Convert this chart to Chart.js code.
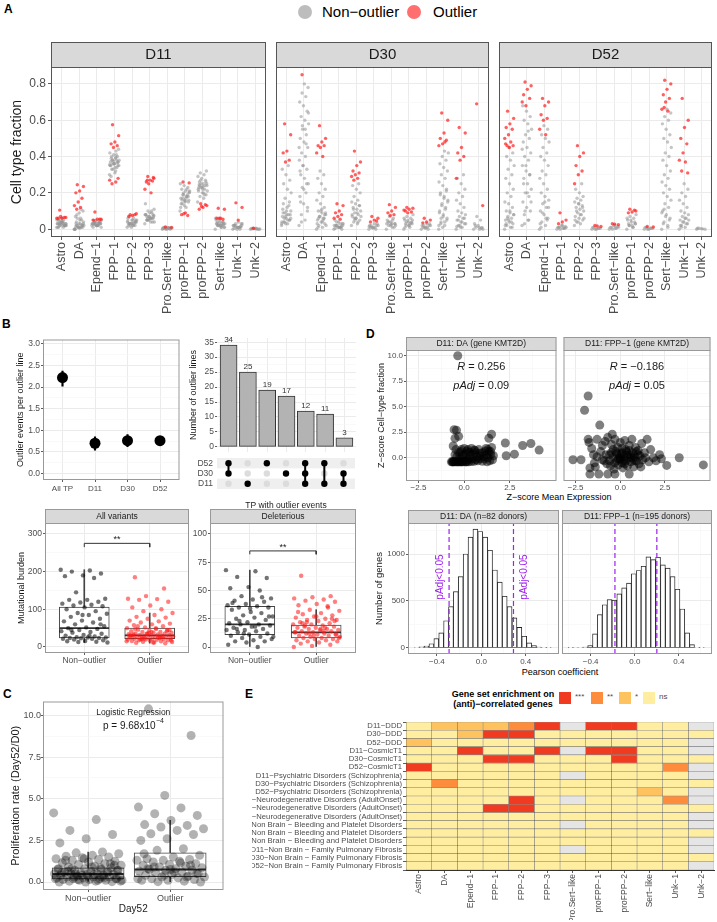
<!DOCTYPE html>
<html>
<head>
<meta charset="utf-8">
<script src="https://cdn.jsdelivr.net/npm/chart.js@4.4.1/dist/chart.umd.min.js"></script>
<style>
body { margin: 0; background: #fff; }
#fig { position: relative; width: 717px; height: 922px; overflow: hidden; font-family: "Liberation Sans", Arial, sans-serif; color: #000; }
#fig canvas { position: absolute; }
.tag { position: absolute; font-weight: bold; font-size: 12px; line-height: 12px; }
.t { position: absolute; white-space: nowrap; }
.sw { position: absolute; width: 12px; height: 12px; }
</style>
</head>
<body>
<div id="fig">
  <div class="tag" style="left:4px;top:3px">A</div>
  <div class="tag" style="left:2px;top:318px">B</div>
  <div class="tag" style="left:3px;top:688px">C</div>
  <div class="tag" style="left:366px;top:328px">D</div>
  <div class="tag" style="left:245px;top:688px">E</div>

  <div class="t" style="left:298px;top:5px;width:14px;height:14px;border-radius:50%;background:#bdbdbd"></div>
  <div class="t" style="left:322px;top:2px;font-size:15px;line-height:20px">Non−outlier</div>
  <div class="t" style="left:407px;top:5px;width:14px;height:14px;border-radius:50%;background:#ff6f6f"></div>
  <div class="t" style="left:433px;top:2px;font-size:15px;line-height:20px">Outlier</div>

  <div class="t" style="left:459px;top:491px;width:200px;text-align:center;font-size:9px;line-height:12px">Z−score Mean Expression</div>
  <div class="t" style="left:460px;top:666px;width:200px;text-align:center;font-size:9px;line-height:12px">Pearson coefficient</div>

  <div class="t" style="left:443px;top:689px;width:120px;text-align:center;font-size:9px;line-height:10px;font-weight:bold">Gene set enrichment on<br>(anti)−correlated genes</div>
  <div class="sw" style="left:559px;top:692px;background:#f03b20"></div>
  <div class="t" style="left:575px;top:692px;font-size:8px;color:#4d4d4d">***</div>
  <div class="sw" style="left:591px;top:692px;background:#fd8d3c"></div>
  <div class="t" style="left:607px;top:692px;font-size:8px;color:#4d4d4d">**</div>
  <div class="sw" style="left:619px;top:692px;background:#fec25e"></div>
  <div class="t" style="left:635px;top:692px;font-size:8px;color:#4d4d4d">*</div>
  <div class="sw" style="left:643px;top:692px;background:#ffeda0"></div>
  <div class="t" style="left:659px;top:692px;font-size:8px;color:#4d4d4d">ns</div>
</div>
<script>
const FONT = '"Liberation Sans", Arial, sans-serif';
Chart.defaults.font.family = FONT;
Chart.defaults.color = '#4d4d4d';

// ---------------- data ----------------
const cellTypes = ['Astro', 'DA', 'Epend−1', 'FPP−1', 'FPP−2', 'FPP−3', 'Pro.Sert−like', 'proFPP−1', 'proFPP−2', 'Sert−like', 'Unk−1', 'Unk−2'];
const days = ['D11', 'D30', 'D52'];
const fracTicks = [0, 0.2, 0.4, 0.6, 0.8];
const fracMinor = [0.1, 0.3, 0.5, 0.7];

// cell type fractions, in hundredths, one string per cell type
const greyD11 = [
  '1 2 3 2 4 3 5 2 3 4 1 2 3 5 4 3 2 6 1 3 4 2 3 5 2 4 3 1 2 3 4 5',
  '0 1 2 1 3 0 1 2 4 5 3 2 1 0 6 8 10 9 7 5 1 2 3 4 2 1 0 11 6 3 0.5 1.5 2.5',
  '2 3 4 3 2 5 4 3 1 2 3 4 5 3 2 4 3 2 1 3 4 5 2 3 4 2 3 3.5 2.5',
  '30 32 33 35 36 37 38 36 35 34 39 40 41 42 43 38 37 36 35 34 33 38 39 40 37 36 35 41 38 44 31 29 36.5 37.5 35.5 39.5',
  '1 2 3 4 5 6 3 2 4 5 3 2 1 4 6 7 5 3 2 4 3 5 2 3 4 3.5 4.5',
  '3 4 5 6 7 8 9 10 11 6 5 4 7 8 6 5 7 9 8 6 5 4 6 7 8 5 14 10 6 7.5',
  '0 0.5 1 0.5 0 1 0.5 0 0.5 1 0.5 0 0.5 0.3 0.8',
  '10 12 14 15 16 17 18 19 20 21 22 23 24 25 18 17 16 15 14 19 20 21 17 16 18 13 12 22 19 20.5 15.5',
  '15 17 18 19 20 21 22 23 24 25 26 27 28 29 30 31 32 22 23 24 25 21 20 24 26 23 22 19 27 25 23.5 24.5',
  '0 1 2 3 4 5 2 3 1 2 3 4 5 6 3 2 1 2 3 4 2 3 1 4 2.5',
  '0 1 2 3 1 2 0 1 3 4 2 1 0 2 1 3 2 1 0.5 1.5',
  '0 0.3 0.5 0 0.2 0.4 0 0.3 0.1 0.5 0.2'
];
const redD11 = [
  '10.5 6.5 6 6 6.5 7 6', '24.5 23.5 21 20 17 15 13 12 11', '9.5 5.5 5.5 5 5.5',
  '57.5 51.5 48 47 46 45 27 26 25 28', '8 8.5 7.5 7 8', '29 28 27 26 26.5 25 22 20 27 28.5',
  '1.2 1', '26 25.5 9 8 7.5 8.5', '14 13 12 11 13.5 12.5', '11.5 11 6 6 5.5 6', '14.5 12 5', '0.5'
];
const greyD30 = [
  '2 3 4 5 6 7 8 9 10 12 14 15 3 4 5 6 8 10 11 13 17 20 22 25 27 30 33 35 4 6 8 9 5 7 3',
  '2 5 8 10 14 18 20 23 25 28 30 33 35 38 40 42 45 48 50 52 55 58 60 62 65 68 70 73 75 78 80 15 25 35 45 55 4 12 22 32 47 57 64',
  '0 1 2 3 4 5 6 7 8 9 10 12 14 16 18 20 22 25 28 30 32 2 4 6 8 10 3 5 7 9 11 1 6',
  '0 1 2 3 4 5 1 2 3 1 2 0 1 2 3 4 2 1 0.5 1.5',
  '2 3 4 5 6 7 8 9 10 11 12 13 14 15 16 18 20 22 24 25 5 7 9 11 13 6 8 4 6',
  '0 1 2 3 1 2 0 1 2 3 1 2 0.5 1.5',
  '0 1 2 3 4 5 6 7 2 3 4 1 2 3 5 4 3 2.5',
  '0 1 2 3 4 5 6 7 8 2 3 4 5 6 3 4 5 2 1 3.5',
  '0 1 2 3 1 2 0 1 2 3 1 2 0.5',
  '0 2 4 6 8 10 12 14 16 18 20 22 24 26 28 30 32 34 36 38 40 42 43 3 5 7 9 11 13 15 17 19 21 1 2 4 6',
  '0 1 2 3 4 5 6 7 8 9 10 12 14 16 18 20 22 25 28 30 2 3 4 5 6 1 1.5',
  '0 0 1 1 2 3 5 7 0 1 2 0.5'
];
const redD30 = [
  '58 52 43 42 38 37', '85', '57 50 48 46 46 45 42 40', '14 13 10 9 8 7 6 5.5',
  '43 37 35 32 31 30 29 28 27', '7 6 5 4 4.5', '13.5 12 10 9 8 7.5', '12 11.5 11 10 9.5 9 10.5',
  '6 5 4 3.5', '64 60 53 50 49 47 46 48', '56 53 45 42 40 38 28', '69 13'
];
const greyD52 = [
  '0 1 2 3 4 5 6 7 8 9 10 12 14 15 18 20 22 25 28 30 33 35 38 40 42 45 2 4 6 8 10 3 1 5',
  '2 5 8 10 12 15 18 20 22 25 28 30 32 35 38 40 42 45 48 50 52 55 58 60 62 65 68 5 10 15 20 25 30 35 44 54 3',
  '0 2 4 6 8 10 12 14 16 18 20 22 25 28 30 32 35 38 40 42 45 48 50 52 55 57 3 6 9 12 15 1 5',
  '0 0.5 1 1.5 2 1 0.5 0 1 2 1 0.5',
  '2 3 4 5 6 7 8 9 10 11 12 13 14 15 16 17 18 20 22 25 4 6 8 10 12 14 5',
  '0 0.5 1 0.5 0 1 0.5 0',
  '0 0.5 1 1.5 2 1 0.5 0 1 2',
  '0 1 2 3 4 5 6 7 8 2 3 4 5 6 1 2 3',
  '0 0.5 1 0.5 0 1 0.5 0',
  '0 2 4 6 8 10 12 14 16 18 20 22 24 26 28 30 32 35 38 40 42 45 48 50 52 55 58 60 62 64 66 3 5 7 9 1 11',
  '0 1 2 3 4 5 6 7 8 9 10 12 14 16 18 20 22 25 2 3 4 5 6 1',
  '0 0.2 0.5 0 0.3 0.5'
];
const redD52 = [
  '65 61 58 56 55 52 50 48 46 46 45 47', '81 79 77 74 72 68 70', '72 70 68 63 61 60 55 52', '9 5 4 3',
  '46 42 40 35 32 30 25', '2 1.5 1.8', '3 2.5 2.8', '11 10 9.5 9 10.5', '1.5 1.2',
  '82 80 77 74 72 70 66 65 67', '72 60 56 50 47 42 38 37 32 31', ''
];

// B: outlier events per line
const tpCats = ['All TP', 'D11', 'D30', 'D52'];
const tpMean = [2.22, 0.70, 0.76, 0.76];
const tpLo = [2.02, 0.54, 0.62, 0.68];
const tpHi = [2.37, 0.85, 0.90, 0.83];
const evTicks = [0, 0.5, 1, 1.5, 2, 2.5, 3];
const evMinor = [0.25, 0.75, 1.25, 1.75, 2.25, 2.75];

// B: upset
const upsetSets = ['D11', 'D30', 'D52'];
const upsetCombos = [['D30', 'D52'], ['D11'], ['D52'], ['D30'], ['D11', 'D30', 'D52'], ['D11', 'D52'], ['D11', 'D30']];
const upsetCounts = [34, 25, 19, 17, 12, 11, 3];
const upsetTicks = [0, 5, 10, 15, 20, 25, 30, 35];
const upsetMinor = [2.5, 7.5, 12.5, 17.5, 22.5, 27.5, 32.5];

// B: mutational burden
const groups = ['Non−outlier', 'Outlier'];
const allNon = [205, 203, 200, 195, 190, 188, 183, 145, 128, 125, 125, 120, 118, 115, 112, 110, 108, 105, 100, 95, 90, 88, 85, 80, 75, 70, 68, 65, 60, 55, 52, 50, 48, 45, 42, 40, 38, 35, 32, 30, 28, 26, 25, 25, 24, 24, 23, 22, 22, 20, 18, 16, 15, 14, 13, 12, 30, 45, 60, 85];
const allOut = [185, 155, 135, 128, 127, 125, 120, 110, 105, 100, 95, 90, 85, 80, 78, 75, 70, 68, 65, 62, 60, 58, 55, 52, 50, 48, 46, 45, 44, 42, 40, 40, 38, 38, 36, 35, 35, 34, 33, 32, 32, 31, 30, 30, 29, 28, 28, 27, 26, 25, 25, 24, 24, 23, 22, 22, 21, 20, 20, 19, 18, 18, 17, 16, 15, 14, 13, 12, 11, 10, 35, 30, 25, 20, 45, 40, 33, 27, 23, 15, 50, 55, 42, 37, 31, 26, 21, 17, 12, 48];
const delNon = [68, 67, 62, 61, 53, 52, 50, 45, 43, 42, 41, 40, 38, 37, 36, 35, 35, 34, 33, 30, 28, 27, 26, 25, 24, 22, 21, 20, 20, 19, 18, 17, 16, 15, 15, 14, 13, 12, 11, 10, 9, 8, 7, 6, 5, 5, 4, 2, 0, 23, 27, 31, 39, 44, 12, 9, 18, 16];
const delOut = [63, 45, 44, 43, 42, 41, 40, 38, 37, 35, 33, 32, 30, 29, 28, 27, 26, 25, 24, 24, 23, 22, 21, 20, 20, 19, 18, 18, 17, 17, 16, 16, 15, 15, 14, 14, 13, 13, 12, 12, 11, 11, 10, 10, 9, 9, 8, 8, 7, 7, 6, 6, 5, 5, 4, 3, 2, 1, 0, 14, 19, 23, 27, 31, 36, 12, 8, 16, 21, 25, 10, 13, 17, 22, 11];
const allBox = [[12, 24, 50, 106, 205], [10, 22, 31, 50, 90]];   // low, q1, median, q3, high
const delBox = [[0, 11, 20, 36, 68], [0, 8, 13, 19.5, 33]];
const allSig = 275, delSig = 85;

// C: proliferation
const proNon = [4.15, 3.75, 3.1, 2.85, 2.6, 2.35, 1.8, 1.75, 1.7, 1.6, 1.55, 1.5, 1.45, 1.4, 1.35, 1.3, 1.25, 1.2, 1.15, 1.1, 1.05, 1.0, 0.95, 0.9, 0.85, 0.8, 0.8, 0.75, 0.7, 0.7, 0.65, 0.6, 0.6, 0.55, 0.5, 0.5, 0.5, 0.45, 0.45, 0.4, 0.4, 0.35, 0.35, 0.3, 0.3, 0.3, 0.25, 0.25, 0.2, 0.2, 0.2, 0.15, 0.15, 0.1, 0.1, 0.1, 0.05, 0.05, 0.02, 0.0, 0.0, 0.3, 0.5, 0.7, 0.9, 1.3, 0.6, 0.4, 0.2, 0.1, 0.8, 1.0, 0.35, 0.55, 0.25, 0.15, 0.05, 0.45, 0.65, 1.1, 1.4, 0.75, 0.85, 0.3, 0.2];
const proOut = [10.4, 8.8, 5.2, 4.5, 4.45, 4.1, 4.0, 3.7, 3.45, 3.4, 3.3, 3.2, 3.1, 2.9, 2.85, 2.6, 2.5, 2.0, 1.9, 1.6, 1.5, 1.4, 1.35, 1.3, 1.3, 1.25, 1.2, 1.1, 1.05, 1.0, 0.95, 0.9, 0.85, 0.8, 0.75, 0.7, 0.7, 0.65, 0.6, 0.55, 0.5, 0.45, 0.4, 0.35, 0.3, 0.3, 0.25, 0.2, 0.15, 0.1, 0.1, 0.05, 0.02, 0.0, 0.6, 0.8, 1.0, 0.4, 0.2, 1.15, 0.9, 0.5, 0.75, 1.7, 0.3];
const proBox = [[0, 0.18, 0.48, 0.85, 1.8], [0.02, 0.32, 0.75, 1.75, 3.7]];
const proTicks = [0, 2.5, 5, 7.5, 10];
const proMinor = [1.25, 3.75, 6.25, 8.75];

// D: z-score scatter
const dStrips = ['D11: DA (gene KMT2D)', 'D11: FPP−1 (gene KMT2D)'];
const dR = ['0.256', '−0.186'];
const dP = ['0.09', '0.05'];
const daPts = [[-0.35, 10.0], [-0.55, 2.75], [-0.42, 2.7], [-0.3, 2.1], [-0.5, 1.9], [-0.6, 1.15], [-0.45, 0.8], [-0.2, 0.6], [0.0, 0.9], [0.2, 0.8], [0.4, 0.9], [0.6, 0.7], [0.8, 0.8], [1.0, 0.5], [1.2, 0.9], [1.35, 1.9], [1.5, 2.3], [1.45, 0.6], [1.6, 0.2], [1.3, 0.0], [1.1, -0.1], [0.9, 0.2], [0.7, 0.1], [0.5, 0.3], [0.3, 0.0], [0.1, 0.4], [-0.1, 0.2], [-0.3, 0.5], [-0.5, 0.3], [2.25, 1.45], [2.3, 0.2], [2.75, 0.35], [3.2, 1.2], [3.65, 1.4], [4.1, 0.75], [-0.7, -0.4], [-0.62, -0.4], [-0.55, -0.4], [-0.48, -0.4], [-0.4, -0.4], [-0.33, -0.4], [-0.26, -0.4], [-0.2, -0.4], [-0.12, -0.4], [-0.05, -0.4], [0.05, -0.4], [0.15, -0.4], [0.25, -0.4], [0.4, -0.38], [0.55, -0.35], [0.75, -0.3], [1.0, -0.35], [1.25, -0.4], [1.4, -0.3], [0.2, -0.2], [0.45, -0.1], [0.65, -0.2], [0.85, -0.1], [1.05, 0.1], [-0.25, 0.0], [0.0, -0.1], [0.35, 0.35], [0.6, 0.5], [1.2, 0.3], [1.35, 0.6], [0.15, 0.65], [-0.05, 0.3], [1.55, -0.2], [-0.65, -0.4], [-0.58, -0.4], [-0.36, -0.4], [-0.16, -0.4], [0.1, -0.4], [1.3, 0.8], [1.45, 0.3], [0.55, 0.75], [-0.4, 0.1], [0.85, 0.45], [1.15, 0.65], [1.5, 1.0], [0.3, 0.55], [-0.15, 0.8]];
const fppPts = [[-1.8, 6.05], [-2.0, 4.65], [-1.15, 3.2], [-2.65, -0.2], [-2.2, -0.2], [-1.8, 1.8], [-1.75, 1.5], [-1.6, 0.9], [-1.5, 0.3], [-1.45, -0.5], [-1.7, -1.0], [-1.7, -1.6], [-1.3, 1.8], [-1.2, -1.6], [-1.1, 0.6], [-1.0, 1.2], [-0.9, -0.3], [-0.85, 1.6], [-0.7, 2.0], [-0.7, -1.6], [-0.6, 0.3], [-0.55, -0.8], [-0.5, 1.3], [-0.45, 2.3], [-0.4, 0.0], [-0.35, -1.1], [-0.3, 1.8], [-0.3, -1.6], [-0.25, 0.6], [-0.2, -0.3], [-0.15, 1.0], [-0.1, -0.7], [-0.05, 0.2], [0.0, 1.5], [0.0, -0.2], [0.05, 0.4], [0.1, -0.5], [0.1, 0.9], [0.15, -1.0], [0.2, 0.1], [0.25, 1.7], [0.3, -0.3], [0.35, 0.6], [0.4, -0.8], [0.45, 0.0], [0.5, -1.6], [0.5, 1.2], [0.55, 0.3], [0.6, -0.4], [0.65, 1.8], [0.7, 0.5], [0.75, -0.9], [0.8, 0.1], [0.85, 1.0], [0.9, -0.3], [1.0, 0.7], [1.05, -0.6], [1.1, 0.2], [1.2, 1.4], [1.25, -0.2], [1.35, 0.5], [1.5, 1.8], [1.6, -0.4], [1.7, 0.8], [1.85, 0.0], [2.0, -0.3], [2.2, 0.3], [2.3, -0.1], [2.6, -0.75], [3.3, 0.0], [4.65, -0.7], [-0.8, 0.3], [-0.6, -0.3], [-0.4, 0.8], [-0.2, 0.4], [0.0, 0.0], [0.2, -0.2], [0.4, 0.3], [0.6, 0.0], [0.8, -0.3], [1.0, 0.3], [-1.0, -0.2], [-0.3, -0.5], [0.3, 0.8], [0.7, -0.1], [1.4, 0.0], [-1.3, 0.1], [0.1, 0.5], [-0.5, 0.5], [0.5, 0.7], [-0.1, -0.1], [0.25, -0.6], [-0.75, -0.6], [0.9, 0.6], [1.15, -0.9], [-1.4, -0.9]];
const zTicks = [-2.5, 0, 2.5];
const zMinor = [-1.25, 1.25, 3.75];
const zyTicks = [0, 2.5, 5, 7.5, 10];
const zyMinor = [-1.25, 1.25, 3.75, 6.25, 8.75];

// D: histograms of Pearson coefficients (bins of 0.044 starting at -0.603)
const hStrips = ['D11: DA (n=82 donors)', 'D11: FPP−1 (n=195 donors)'];
const histStart = -0.603, binW = 0.044;
const daHist = [5, 12, 20, 45, 100, 160, 290, 440, 600, 760, 1000, 1180, 1265, 1240, 1180, 1040, 830, 700, 550, 440, 320, 220, 125, 55, 25, 10, 5, 3];
const fppHist = [3, 5, 5, 10, 25, 150, 355, 460, 515, 510, 575, 640, 690, 790, 825, 870, 970, 940, 965, 885, 850, 760, 625, 415, 160, 35, 5, 3];
const daCut = [-0.29, 0.29];
const fppCut = [-0.18, 0.2];
const hyTicks = [0, 500, 1000];
const hyMinor = [250, 750, 1250];
const hxTicks = [-0.4, 0, 0.4];
const hxMinor = [-0.6, -0.2, 0.2, 0.6];

// E: enrichment heatmap ('3' ***, '2' **, '1' *, '0' ns, '.' missing)
const heatRows = ['D11−DDD', 'D30−DDD', 'D52−DDD', 'D11−CosmicT1', 'D30−CosmicT1', 'D52−CosmicT1',
  'D11−Psychiatric Disorders (Schizophrenia)', 'D30−Psychiatric Disorders (Schizophrenia)', 'D52−Psychiatric Disorders (Schizophrenia)',
  'D11−Neurodegenerative Disorders (AdultOnset)', 'D30−Neurodegenerative Disorders (AdultOnset)', 'D52−Neurodegenerative Disorders (AdultOnset)',
  'D11−Non Brain − Bleeding and Platelet Disorders', 'D30−Non Brain − Bleeding and Platelet Disorders', 'D52−Non Brain − Bleeding and Platelet Disorders',
  'D11−Non Brain − Family Pulmonary Fibrosis', 'D30−Non Brain − Family Pulmonary Fibrosis', 'D52−Non Brain − Family Pulmonary Fibrosis'];
const heatCodes = ['011123.3300.', '001330000000', '10000000000.', '003003.3300.', '000330003000', '30000000002.',
  '000000.0000.', '020000000000', '00000000010.', '000030.0002.', '000330000000', '00000000000.',
  '000000.0000.', '000000000000', '00000000000.', '000000.0000.', '000000000000', '00000000000.'];
const heatFill = { '3': '#f03b20', '2': '#fd8d3c', '1': '#fec25e', '0': '#ffeda0', '.': '#e5e5e5' };

// ---------------- helpers ----------------
const fig = document.getElementById('fig');

function mk(area, yW, xH, padT, padR) {
  padR = padR === undefined ? 3 : padR;
  const c = document.createElement('canvas');
  const w = 2 + yW + area.w + padR, h = padT + area.h + xH;
  c.width = w; c.height = h;
  c.style.left = (area.l - yW - 2) + 'px';
  c.style.top = (area.t - padT) + 'px';
  c.style.width = w + 'px';
  c.style.height = h + 'px';
  fig.appendChild(c);
  return { el: c, layout: { padding: { left: 2, right: padR, top: padT, bottom: 0 } } };
}

function opts(m, scales) {
  return {
    responsive: false, animation: false, events: [], layout: m.layout,
    plugins: { legend: { display: false }, tooltip: { enabled: false } },
    scales: scales
  };
}

function axis(o) {
  const list = o.major.map((v, i) => ({ value: v, mj: 1, lab: o.labels ? o.labels[i] : '' }))
    .concat((o.minor || []).map(v => ({ value: v, mj: 0, lab: '' })))
    .sort((p, q) => p.value - q.value);
  const tl = o.tickLen === undefined ? 3 : o.tickLen;
  const showGrid = o.grid !== false;
  return {
    type: 'linear', min: o.min, max: o.max, offset: false,
    afterBuildTicks: ax => { ax.ticks = list.map(t => ({ value: t.value, mj: t.mj, lab: t.lab })); },
    afterFit: ax => {
      if (o.horiz) { ax.height = o.size; ax.paddingLeft = 0; ax.paddingRight = 0; }
      else { ax.width = o.size; ax.paddingTop = 0; ax.paddingBottom = 0; }
    },
    border: { display: !!o.axisLine, color: '#333', width: 1 },
    grid: {
      offset: false,
      display: showGrid || tl > 0, drawOnChartArea: showGrid, drawTicks: tl > 0, tickLength: tl,
      color: c => (c.tick && c.tick.mj) ? '#ebebeb' : '#f5f5f5',
      lineWidth: c => (c.tick && c.tick.mj) ? 1 : 0.6,
      tickColor: c => (c.tick && c.tick.mj) ? '#333' : 'rgba(0,0,0,0)',
      tickWidth: 0.8
    },
    ticks: {
      display: !o.hideLabels, autoSkip: false, padding: o.pad === undefined ? 2 : o.pad,
      minRotation: o.rot || 0, maxRotation: o.rot || 0, color: '#4d4d4d',
      font: { size: o.font || 9 },
      callback: (v, i, t) => t[i].lab
    },
    title: o.title ? {
      display: true, text: o.title, color: '#1a1a1a', font: { size: o.titleFont },
      padding: o.horiz ? { top: 0, bottom: o.titlePad || 0 } : { top: o.titlePad || 0, bottom: 0 }
    } : { display: false }
  };
}

function num(v, d) { return (v < 0 ? '\u2212' : '') + Math.abs(v).toFixed(d); }
function vals(s) { return s.trim() ? s.trim().split(/\s+/).map(Number) : []; }
// horizontal spread of jittered points inside a category
function jit(i, w) { return (((i * 0.6180339887) % 1) - 0.5) * 2 * w; }

function frame(o) {
  return {
    id: 'frame',
    afterDatasetsDraw(chart) {
      const c = chart.ctx, a = chart.chartArea, w = a.right - a.left;
      c.save();
      c.lineWidth = 1;
      c.strokeStyle = o.border || '#999';
      if (o.border) c.strokeRect(a.left + 0.5, a.top + 0.5, w - 1, a.bottom - a.top - 1);
      if (o.strip) {
        c.fillStyle = '#d9d9d9';
        c.fillRect(a.left, a.top - o.h, w, o.h);
        c.strokeRect(a.left + 0.5, a.top - o.h + 0.5, w - 1, o.h);
        c.fillStyle = '#1a1a1a';
        c.font = o.font + 'px ' + FONT;
        c.textAlign = 'center';
        c.textBaseline = 'middle';
        c.fillText(o.strip, a.left + w / 2, a.top - o.h / 2 + 0.5);
      }
      c.restore();
    }
  };
}

function notes(fn) {
  return { id: 'notes', afterDraw(chart) { const c = chart.ctx; c.save(); fn(chart, c); c.restore(); } };
}

function mathText(c, parts, cx, y, size) {
  let w = 0;
  parts.forEach(p => { c.font = (p[1] ? 'italic ' : '') + size + 'px ' + FONT; w += c.measureText(p[0]).width; });
  let x = cx - w / 2;
  c.textAlign = 'left'; c.textBaseline = 'middle'; c.fillStyle = '#1a1a1a';
  parts.forEach(p => {
    c.font = (p[1] ? 'italic ' : '') + size + 'px ' + FONT;
    c.fillText(p[0], x, y);
    x += c.measureText(p[0]).width;
  });
}

// ---------------- A: cell type fractions ----------------
function spread(strs, off, w) {
  const pts = [];
  strs.forEach((s, k) => vals(s).forEach((v, i) => pts.push({ x: k + jit(i + off, w), y: v / 100 })));
  return pts;
}

[[greyD11, redD11], [greyD30, redD30], [greyD52, redD52]].forEach((pair, k) => {
  const yW = k === 0 ? 49 : 0;
  const m = mk({ l: [51, 274, 497][k], t: 67, w: 216, h: 170 }, yW, 85, 26);
  new Chart(m.el, {
    type: 'scatter',
    data: {
      datasets: [
        { data: spread(pair[1], 0.5, 0.28), backgroundColor: 'rgba(255,30,30,0.7)', pointRadius: 1.7, borderWidth: 0, order: 0 },
        { data: spread(pair[0], 0, 0.28), backgroundColor: 'rgba(150,150,150,0.55)', pointRadius: 1.7, borderWidth: 0, order: 1 }
      ]
    },
    options: opts(m, {
      x: axis({ min: -0.6, max: 11.6, major: cellTypes.map((_, i) => i), labels: cellTypes, size: 85, horiz: true, rot: 90, font: 12.5 }),
      y: axis({
        min: -0.043, max: 0.893, major: fracTicks, labels: fracTicks.map(v => v === 0 ? '0' : v.toFixed(1)), minor: fracMinor,
        size: yW, font: 12, hideLabels: k > 0, tickLen: k > 0 ? 0 : 3,
        title: k === 0 ? 'Cell type fraction' : null, titleFont: 14, titlePad: 7
      })
    }),
    plugins: [frame({ strip: days[k], h: 25, font: 15, border: '#555' })]
  });
});

// ---------------- B: events per outlier line ----------------
(function () {
  const m = mk({ l: 43, t: 338, w: 139, h: 142 }, 41, 16, 4);
  new Chart(m.el, {
    type: 'scatter',
    data: {
      datasets: [
        { data: tpMean.map((v, i) => ({ x: i, y: v })), backgroundColor: '#000', pointRadius: 5.5, borderWidth: 0, order: 0 },
        { type: 'bar', data: tpCats.map((_, i) => ({ x: i, y: [tpLo[i], tpHi[i]] })), backgroundColor: '#000', barThickness: 1.5, grouped: false, order: 1 }
      ]
    },
    options: opts(m, {
      x: axis({ min: -0.6, max: 3.6, major: tpCats.map((_, i) => i), labels: tpCats, size: 16, horiz: true, font: 8, tickLen: 2, pad: 2 }),
      y: axis({ min: -0.15, max: 3.1, major: evTicks, labels: evTicks.map(v => v.toFixed(1)), minor: evMinor, size: 41, font: 8.5, title: 'Outlier events per outlier line', titleFont: 9, titlePad: 13, tickLen: 2, pad: 1 })
    }),
    plugins: [frame({ border: '#999' })]
  });
})();

// ---------------- B: upset bars + matrix ----------------
(function () {
  const m = mk({ l: 217, t: 338, w: 139, h: 114 }, 30, 0, 4);
  new Chart(m.el, {
    type: 'bar',
    data: {
      datasets: [{
        data: upsetCounts.map((v, i) => ({ x: i, y: v })), backgroundColor: '#b3b3b3', borderColor: '#333',
        borderWidth: 1, borderSkipped: false, barThickness: 17
      }]
    },
    options: opts(m, {
      x: axis({ min: -0.6, max: 6.6, major: upsetCounts.map((_, i) => i), size: 0, horiz: true, hideLabels: true, tickLen: 0 }),
      y: axis({ min: -1.7, max: 36.4, major: upsetTicks, labels: upsetTicks.map(String), minor: upsetMinor, size: 30, font: 8.5, title: 'Number of outlier lines', titleFont: 9, titlePad: 1.5, tickLen: 2, pad: 1 })
    }),
    plugins: [notes((chart, c) => {
      c.fillStyle = '#333'; c.font = '8px ' + FONT; c.textAlign = 'center'; c.textBaseline = 'bottom';
      chart.getDatasetMeta(0).data.forEach((b, i) => c.fillText(String(upsetCounts[i]), b.x, b.y - 1));
    })]
  });

  const mm = mk({ l: 217, t: 453, w: 139, h: 38 }, 30, 20, 1);
  const on = [], off = [], links = [];
  upsetCombos.forEach((combo, i) => {
    const idx = combo.map(s => upsetSets.indexOf(s));
    upsetSets.forEach((s, r) => (idx.includes(r) ? on : off).push({ x: i, y: r }));
    if (idx.length > 1) links.push({
      type: 'line', data: [{ x: i, y: Math.min(...idx) }, { x: i, y: Math.max(...idx) }],
      borderColor: '#000', borderWidth: 2, pointRadius: 0, order: 1
    });
  });
  new Chart(mm.el, {
    type: 'scatter',
    data: {
      datasets: [
        { data: on, backgroundColor: '#000', pointRadius: 3.2, borderWidth: 0, order: 0 },
        ...links,
        { data: off, backgroundColor: '#dcdcdc', pointRadius: 3.2, borderWidth: 0, order: 2 }
      ]
    },
    options: opts(mm, {
      x: axis({ min: -0.6, max: 6.6, major: [], size: 20, horiz: true, hideLabels: true, tickLen: 0, grid: false, title: 'TP with outlier events', titleFont: 8.5, titlePad: 0 }),
      y: axis({ min: -0.7, max: 2.7, major: [0, 1, 2], labels: upsetSets, size: 30, font: 8.5, grid: false, tickLen: 0, pad: 4 })
    }),
    plugins: [{
      id: 'bands',
      beforeDatasetsDraw(chart) {
        const c = chart.ctx, a = chart.chartArea, ys = chart.scales.y;
        c.save(); c.fillStyle = '#efefef';
        [0, 2].forEach(r => {
          const y0 = ys.getPixelForValue(r + 0.5), y1 = ys.getPixelForValue(r - 0.5);
          c.fillRect(a.left, y0, a.right - a.left, y1 - y0);
        });
        c.restore();
      }
    }]
  });
})();

// ---------------- box plot panels (B bottom, C) ----------------
function boxPanel(cfg) {
  const m = mk(cfg.area, cfg.yW, cfg.xH, cfg.padT);
  const pxPerUnit = cfg.area.w / (cfg.xMax - cfg.xMin);
  const hw = cfg.boxPx / 2 / pxPerUnit;
  const ds = [];
  cfg.series.forEach((s, g) => ds.push({
    data: s.map((v, i) => ({ x: g + jit(i + g * 0.3, cfg.jw), y: v })),
    backgroundColor: cfg.colors[g], pointRadius: cfg.r, borderWidth: 0, order: 0
  }));
  cfg.box.forEach((b, g) => ds.push({
    type: 'line', data: [{ x: g - hw, y: b[2] }, { x: g + hw, y: b[2] }],
    borderColor: '#333', borderWidth: 1.8, pointRadius: 0, order: 1
  }));
  ds.push({
    type: 'bar', data: cfg.box.map((b, g) => ({ x: g, y: [b[1], b[3]] })), backgroundColor: '#fff',
    borderColor: '#444', borderWidth: 1, borderSkipped: false, barThickness: cfg.boxPx, grouped: false, order: 2
  });
  ds.push({
    type: 'bar', data: cfg.box.map((b, g) => ({ x: g, y: [b[0], b[4]] })), backgroundColor: '#444',
    barThickness: 1, grouped: false, order: 3
  });
  if (cfg.sig !== undefined) ds.push({
    type: 'line', data: [{ x: 0, y: cfg.sig - cfg.sigTick }, { x: 0, y: cfg.sig }, { x: 1, y: cfg.sig }, { x: 1, y: cfg.sig - cfg.sigTick }],
    borderColor: '#333', borderWidth: 1, pointRadius: 0, order: 1
  });
  const plugins = [frame({ strip: cfg.strip, h: cfg.stripH, font: cfg.stripFont, border: '#999' })];
  if (cfg.sig !== undefined) plugins.push(notes((chart, c) => {
    c.fillStyle = '#1a1a1a'; c.font = '9px ' + FONT; c.textAlign = 'center'; c.textBaseline = 'bottom';
    c.fillText('**', chart.scales.x.getPixelForValue(0.5), chart.scales.y.getPixelForValue(cfg.sig) + 1);
  }));
  if (cfg.extra) plugins.push(notes(cfg.extra));
  new Chart(m.el, {
    type: 'scatter',
    data: { datasets: ds },
    options: opts(m, { x: cfg.x, y: cfg.y }),
    plugins: plugins
  });
}

const blackDot = 'rgba(0,0,0,0.55)', redDot = 'rgba(255,20,20,0.55)';
boxPanel({
  area: { l: 45, t: 523, w: 145, h: 130 }, yW: 43, xH: 16, padT: 15, xMin: -0.6, xMax: 1.6, boxPx: 50, jw: 0.36, r: 2.2,
  series: [allNon, allOut], colors: [blackDot, redDot], box: allBox, sig: allSig, sigTick: 10,
  strip: 'All variants', stripH: 14, stripFont: 8.5,
  x: axis({ min: -0.6, max: 1.6, major: [0, 1], labels: groups, size: 16, horiz: true, font: 8.5, tickLen: 2, pad: 1 }),
  y: axis({ min: -16, max: 329, major: [0, 100, 200, 300], labels: ['0', '100', '200', '300'], minor: [50, 150, 250], size: 43, font: 8.5, title: 'Mutational burden', titleFont: 9, titlePad: 14, tickLen: 2, pad: 1 })
});
boxPanel({
  area: { l: 210, t: 523, w: 147, h: 130 }, yW: 18, xH: 16, padT: 15, xMin: -0.6, xMax: 1.6, boxPx: 50, jw: 0.36, r: 2.2,
  series: [delNon, delOut], colors: [blackDot, redDot], box: delBox, sig: delSig, sigTick: 3,
  strip: 'Deleterious', stripH: 14, stripFont: 8.5,
  x: axis({ min: -0.6, max: 1.6, major: [0, 1], labels: groups, size: 16, horiz: true, font: 8.5, tickLen: 2, pad: 1 }),
  y: axis({ min: -5.3, max: 109.7, major: [0, 25, 50, 75, 100], labels: ['0', '25', '50', '75', '100'], minor: [12.5, 37.5, 62.5, 87.5], size: 18, font: 8.5, tickLen: 2, pad: 1 })
});

// ---------------- C ----------------
boxPanel({
  area: { l: 43, t: 701, w: 182, h: 189 }, yW: 41, xH: 32, padT: 4, xMin: -0.55, xMax: 1.65, boxPx: 72, jw: 0.42, r: 4.5,
  series: [proNon, proOut], colors: ['rgba(0,0,0,0.3)', 'rgba(0,0,0,0.3)'], box: proBox,
  x: axis({ min: -0.55, max: 1.65, major: [0, 1], labels: groups, size: 32, horiz: true, font: 9, tickLen: 2, pad: 1, title: 'Day52', titleFont: 10, titlePad: 7 }),
  y: axis({ min: -0.48, max: 10.84, major: proTicks, labels: proTicks.map(v => v.toFixed(1)), minor: proMinor, size: 41, font: 9, title: 'Proliferation rate (Day52/D0)', titleFont: 11, titlePad: 7, tickLen: 2, pad: 0 }),
  extra: (chart, c) => {
    const a = chart.chartArea, cx = (a.left + a.right) / 2;
    c.fillStyle = '#1a1a1a'; c.textAlign = 'center'; c.textBaseline = 'middle';
    c.font = '8.5px ' + FONT;
    c.fillText('Logistic Regression', cx, a.top + 11);
    c.font = '10px ' + FONT;
    const main = 'p = 9.68x10', w1 = c.measureText(main).width;
    c.font = '7px ' + FONT;
    const w2 = c.measureText('−4').width;
    const x0 = cx - (w1 + w2) / 2;
    c.textAlign = 'left';
    c.font = '10px ' + FONT;
    c.fillText(main, x0, a.top + 25);
    c.font = '7px ' + FONT;
    c.fillText('−4', x0 + w1 + 0.5, a.top + 20);
  }
});

// ---------------- D: scatter facets ----------------
[daPts, fppPts].forEach((pts, k) => {
  const yW = k === 0 ? 30 : 0;
  const m = mk({ l: [406, 561][k], t: 350, w: [152, 151][k], h: 131 }, yW, 12, 14);
  new Chart(m.el, {
    type: 'scatter',
    data: { datasets: [{ data: pts.map(p => ({ x: p[0], y: p[1] })), backgroundColor: 'rgba(0,0,0,0.5)', pointRadius: 4.5, borderWidth: 0 }] },
    options: opts(m, {
      x: axis({ min: -3.18, max: 5.05, major: zTicks, labels: zTicks.map(v => num(v, 1)), minor: zMinor, size: 12, horiz: true, font: 8, tickLen: 2, pad: 0 }),
      y: axis({
        min: -2.28, max: 10.56, major: zyTicks, labels: zyTicks.map(v => num(v, 1)), minor: zyMinor, size: yW, font: 8,
        hideLabels: k > 0, tickLen: k > 0 ? 0 : 2, pad: 1, title: k === 0 ? 'Z−score Cell−type fraction' : null, titleFont: 9, titlePad: 0
      })
    }),
    plugins: [frame({ strip: dStrips[k], h: 13, font: 8.5, border: '#999' }), notes((chart, c) => {
      const a = chart.chartArea, cx = (a.left + a.right) / 2;
      mathText(c, [['R', 1], [' = ' + dR[k], 0]], cx, a.top + 17, 11);
      mathText(c, [['pAdj', 1], [' = ' + dP[k], 0]], cx, a.top + 36, 11);
    })]
  });
});

// ---------------- D: histograms ----------------
[[daHist, daCut], [fppHist, fppCut]].forEach((pair, k) => {
  const yW = k === 0 ? 34 : 0;
  const m = mk({ l: [408, 562][k], t: 523, w: [151, 150][k], h: 131 }, yW, 14, 14);
  const yMin = -64, yMax = 1330;
  const ds = [{
    type: 'bar', data: pair[0].map((v, i) => ({ x: histStart + binW * (i + 0.5), y: v })),
    backgroundColor: '#fff', borderColor: '#222', borderWidth: 0.9, borderSkipped: false,
    barPercentage: 1, categoryPercentage: 1, order: 2
  }];
  pair[1].forEach(v => ds.push({
    type: 'line', data: [{ x: v, y: yMin }, { x: v, y: yMax }], borderColor: '#a020f0',
    borderWidth: 1.2, borderDash: [5, 3], pointRadius: 0, order: 0
  }));
  new Chart(m.el, {
    type: 'scatter',
    data: { datasets: ds },
    options: opts(m, {
      x: axis({ min: -0.66, max: 0.7, major: hxTicks, labels: hxTicks.map(v => num(v, 1)), minor: hxMinor, size: 14, horiz: true, font: 8, tickLen: 2, pad: 1 }),
      y: axis({
        min: yMin, max: yMax, major: hyTicks, labels: hyTicks.map(String), minor: hyMinor, size: yW, font: 8,
        hideLabels: k > 0, tickLen: k > 0 ? 0 : 2, pad: 1, title: k === 0 ? 'Number of genes' : null, titleFont: 9.5, titlePad: 0
      })
    }),
    plugins: [frame({ strip: hStrips[k], h: 13, font: 8.5, border: '#999' }), notes((chart, c) => {
      if (k !== 0) return;
      const a = chart.chartArea, xs = chart.scales.x;
      c.fillStyle = '#a020f0'; c.font = '10px ' + FONT; c.textAlign = 'center'; c.textBaseline = 'middle';
      [[pair[1][0], -9], [pair[1][1], 11]].forEach(d => {
        c.save();
        c.translate(xs.getPixelForValue(d[0]) + d[1], a.top + 54);
        c.rotate(-Math.PI / 2);
        c.fillText('pAdj<0.05', 0, 0);
        c.restore();
      });
    })]
  });
});

// ---------------- E: heatmap ----------------
(function () {
  const m = mk({ l: 406, t: 722, w: 308, h: 148 }, 154, 50, 2);
  const xAx = axis({ min: 0, max: 12, major: cellTypes.map((_, i) => i + 0.5), labels: cellTypes, size: 50, horiz: true, rot: 90, font: 8.5, grid: false, axisLine: true, tickLen: 3, pad: 1 });
  xAx.stacked = true;
  const o = opts(m, {
    x: xAx,
    y: {
      type: 'category', stacked: true,
      afterFit: ax => { ax.width = 154; ax.paddingTop = 0; ax.paddingBottom = 0; },
      border: { display: true, color: '#333', width: 1 },
      grid: { drawOnChartArea: false, tickLength: 3, tickColor: '#333', tickWidth: 0.8 },
      ticks: { autoSkip: false, font: { size: 7.7 }, color: '#4d4d4d', padding: 1 }
    }
  });
  o.indexAxis = 'y';
  new Chart(m.el, {
    type: 'bar',
    data: {
      labels: heatRows,
      datasets: cellTypes.map((c, j) => ({
        data: heatRows.map(() => 1),
        backgroundColor: heatCodes.map(r => heatFill[r[j]]),
        borderColor: 'rgba(70,70,70,0.55)', borderWidth: 0.6, borderSkipped: false,
        barPercentage: 1, categoryPercentage: 1
      }))
    },
    options: o
  });
})();
</script>
</body>
</html>
